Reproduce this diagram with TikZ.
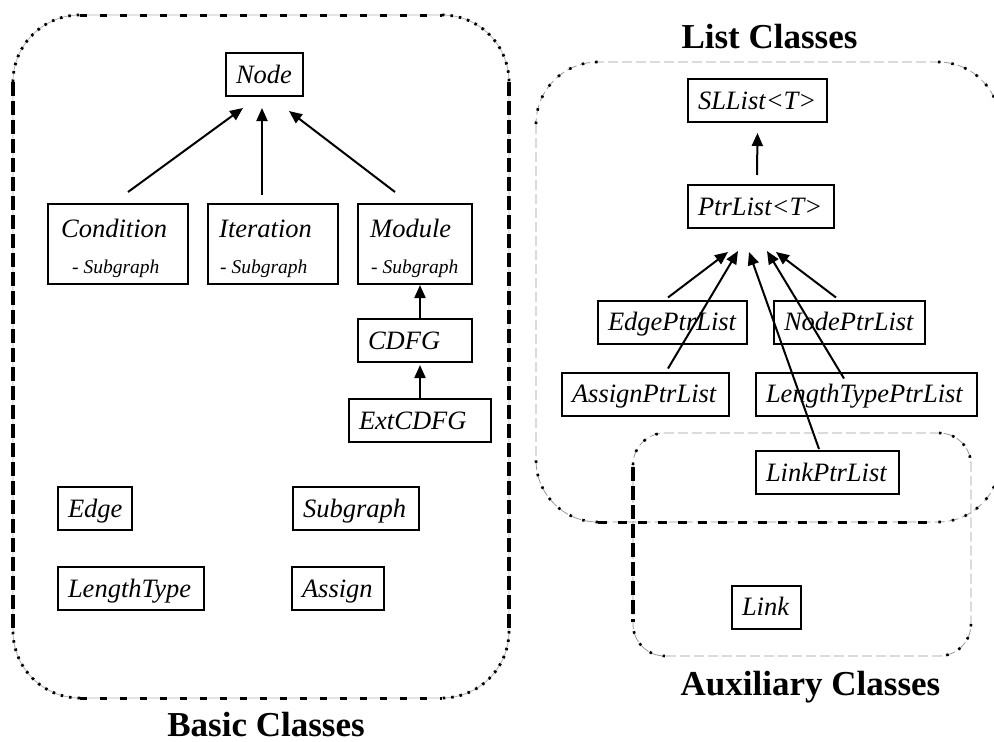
\documentclass[tikz,border=0pt]{standalone}
\usepackage{fontspec}
\setmainfont{Liberation Serif}
\usetikzlibrary{arrows.meta}
\lefthyphenmin=64
\newcommand\clsfont{\fontsize{26.5pt}{30pt}\selectfont\itshape}
\newcommand\subclsfont{\fontsize{19.5pt}{22pt}\selectfont\itshape}
\newcommand\grpfont{\fontsize{35pt}{40pt}\selectfont\bfseries}
\begin{document}
\begin{tikzpicture}[x=1pt,y=-1pt,
  box/.style={draw, line width=2pt, inner xsep=10pt, inner ysep=0pt,
    text height=22pt, text depth=5pt, minimum height=43pt, align=left, font=\clsfont},
  tallbox/.style={draw, line width=2pt, inner sep=0pt, minimum height=80pt},
  txt/.style={inner sep=0pt, font=\clsfont},
  subtxt/.style={inner sep=0pt, font=\subclsfont},
  grp/.style={inner sep=0pt, font=\grpfont},
  arr/.style={line width=2pt, -{Triangle[length=13pt,width=11pt]}},
  gline/.style={draw=black!30, line width=0.8pt},
  gdash/.style={draw=black!40, line width=0.8pt, dash pattern=on 10pt off 4pt},
  bdash/.style={draw=black, line width=3.2pt, dash pattern=on 14pt off 5pt},
  bdots/.style={draw=black, line width=3pt, dash pattern=on 7pt off 13pt},
  cdots/.style={draw=black, line width=2.8pt, dash pattern=on 2.5pt off 6pt},
  sdots/.style={draw=black, line width=2.6pt, dash pattern=on 2.5pt off 11pt}]
\useasboundingbox (0,0) rectangle (994,742);

% ---- group frames ----
% basic classes
\draw[gline, rounded corners=67pt] (13,15) rectangle (509,698);
\draw[bdash] (13,82) -- (13,631);
\draw[bdash] (509,82) -- (509,631);
\draw[bdots] (80,15) -- (442,15);
\draw[bdots] (80,698) -- (442,698);
\draw[cdots, rounded corners=67pt] (13,82) -- (13,15) -- (80,15);
\draw[cdots, rounded corners=67pt] (442,15) -- (509,15) -- (509,82);
\draw[cdots, rounded corners=67pt] (509,631) -- (509,698) -- (442,698);
\draw[cdots, rounded corners=67pt] (80,698) -- (13,698) -- (13,631);

% list classes
\draw[gdash, rounded corners=62pt] (536,62) rectangle (1000,522);
\draw[draw=black, line width=3pt, dash pattern=on 9pt off 11pt] (598,522) -- (938,522);
\draw[sdots, rounded corners=62pt] (536,124) -- (536,62) -- (598,62);
\draw[sdots, rounded corners=62pt] (938,62) -- (1000,62) -- (1000,124);
\draw[sdots, rounded corners=62pt] (1000,460) -- (1000,522) -- (938,522);
\draw[sdots, rounded corners=62pt] (598,522) -- (536,522) -- (536,460);

% auxiliary classes
\draw[gdash, rounded corners=32pt] (633,433) rectangle (971,656);
\draw[bdash] (633,467) -- (633,622);
\draw[sdots, rounded corners=32pt] (633,465) -- (633,433) -- (665,433);
\draw[sdots, rounded corners=32pt] (939,433) -- (971,433) -- (971,465);
\draw[sdots, rounded corners=32pt] (971,624) -- (971,656) -- (939,656);
\draw[sdots, rounded corners=32pt] (665,656) -- (633,656) -- (633,624);

% ---- basic classes ----
\node[box, text width=57pt] (node) at (264.5,74.5) {Node};

\node[tallbox, minimum width=140pt] (cond) at (118,244) {};
\node[txt, anchor=base west] (condA) at (61,237) {Condition};
\node[subtxt, anchor=base west] (condB) at (72,273) {- Subgraph};

\node[tallbox, minimum width=130pt] (iter) at (273,244) {};
\node[txt, anchor=base west] (iterA) at (219,237) {Iteration};
\node[subtxt, anchor=base west] (iterB) at (220,273) {- Subgraph};

\node[tallbox, minimum width=114pt] (mod) at (415,244) {};
\node[txt, anchor=base west] (modA) at (370,237) {Module};
\node[subtxt, anchor=base west] (modB) at (371,273) {- Subgraph};

\node[box, text width=94pt] (cdfg) at (415,340.5) {CDFG};
\node[box, text width=122pt] (ext) at (420,420.5) {ExtCDFG};

\node[box, text width=54pt] (edge) at (95,508.5) {Edge};
\node[box, text width=106pt] (sub) at (356,508.5) {Subgraph};
\node[box, text width=126pt] (lent) at (131,588.5) {LengthType};
\node[box, text width=72pt] (asg) at (338,588.5) {Assign};

\draw[arr] ([shift={(10,-11)}]cond.north) -- ([shift={(-21.5,11)}]node.south);
\draw[arr] ([shift={(-11,-8)}]iter.north) -- ([shift={(-2.5,11)}]node.south);
\draw[arr] ([shift={(-20,-11)}]mod.north) -- ([shift={(24.5,14)}]node.south);
\draw[arr] ([xshift=5pt]cdfg.north) -- ([xshift=5pt]mod.south);
\draw[arr] (ext.north) -- ([shift={(5,2)}]cdfg.south);

% ---- list classes ----
\node[box, text width=119pt] (sll) at (757.5,100.5) {SLList<T>};
\node[box, text width=126pt] (ptr) at (761,206.5) {PtrList<T>};
\node[box, text width=129pt] (eplist) at (672.5,322) {EdgePtrList};
\node[box, text width=131pt] (nplist) at (849.5,322) {NodePtrList};
\node[box, text width=147pt] (aplist) at (645.5,394) {AssignPtrList};
\node[box, text width=201pt] (ltplist) at (866.5,394) {LengthTypePtrList};
\node[box, text width=123pt] (lplist) at (827.5,472.5) {LinkPtrList};

\draw[arr] ([shift={(-4,-9)}]ptr.north) -- ([shift={(0,10)}]sll.south);
\draw[arr] ([shift={(-4.5,-2)}]eplist.north) -- ([shift={(-33,23)}]ptr.south);
\draw[arr] ([shift={(22.5,-3)}]aplist.north) -- ([shift={(-23,22)}]ptr.south);
\draw[arr] ([shift={(-8.5,-1)}]lplist.north) -- ([shift={(-12,23)}]ptr.south);
\draw[arr] ([shift={(-22.5,7)}]ltplist.north) -- ([shift={(6,22)}]ptr.south);
\draw[arr] ([shift={(-13.5,-2)}]nplist.north) -- ([shift={(15,23)}]ptr.south);

% ---- auxiliary classes ----
\node[box, text width=49pt] (link) at (766.5,607) {Link};

% ---- group titles ----
\node[grp, anchor=base] (basicT) at (266,736) {Basic Classes};
\node[grp, anchor=base] (listT) at (769.5,48) {List Classes};
\node[grp, anchor=base] (auxT) at (810.5,695) {Auxiliary Classes};
\end{tikzpicture}
\end{document}
